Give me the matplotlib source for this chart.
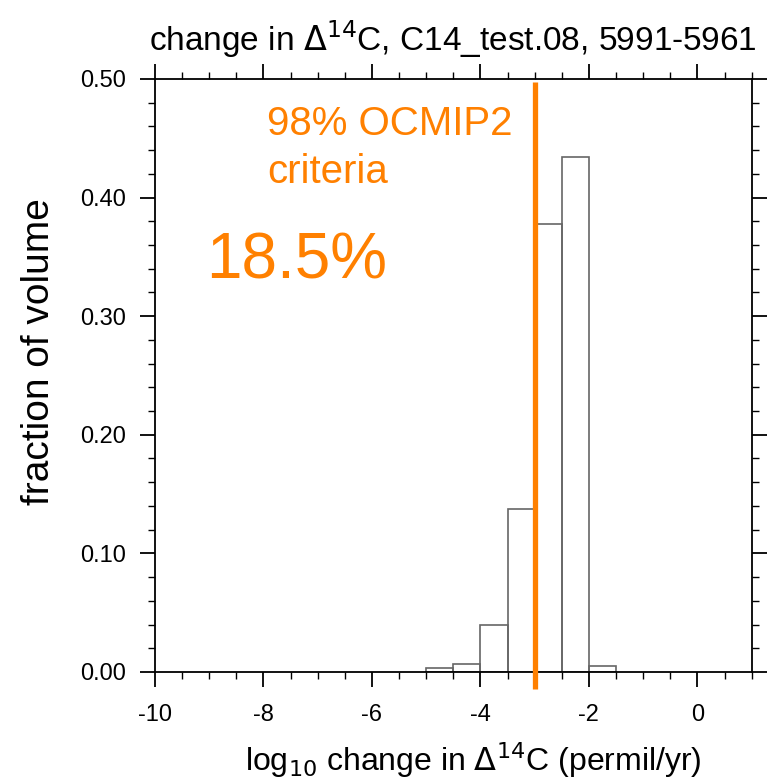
import numpy as np
import matplotlib.pyplot as plt
from matplotlib.ticker import MultipleLocator

# histogram of log10 change in D14C, bin edges every 0.5
bin_left = [-5.0, -4.5, -4.0, -3.5, -3.0, -2.5, -2.0]
fraction = [0.003, 0.0065, 0.040, 0.137, 0.378, 0.434, 0.005]
bin_width = 0.5
criterion = -3.0
percent_text = "18.5%"

orange = "#ff8000"
plt.rcParams["font.family"] = ["Liberation Sans", "DejaVu Sans"]
plt.rcParams["axes.unicode_minus"] = False

fig = plt.figure(figsize=(7.67, 7.82), dpi=100)
ax = fig.add_axes([0.202, 0.1407, 0.778, 0.7583])

ax.bar(bin_left, fraction, width=bin_width, align="edge",
       facecolor="none", edgecolor="#666666", linewidth=1.2, zorder=2)

# OCMIP2 criterion line (runs a bit past the bottom axis)
ax.plot([criterion, criterion], [-0.0143, 0.4975], color=orange,
        linewidth=3.8, clip_on=False, zorder=3, solid_capstyle="butt")
ax.text(-7.93, 0.453, "98% OCMIP2", color=orange, fontsize=29,
        ha="left", va="baseline")
ax.text(-7.93, 0.412, "criteria", color=orange, fontsize=29,
        ha="left", va="baseline")
ax.text(-9.05, 0.332, percent_text, color=orange, fontsize=46,
        ha="left", va="baseline")

ax.set_xlim(-10, 1)
ax.set_ylim(0, 0.5)
ax.xaxis.set_major_locator(MultipleLocator(2))
ax.xaxis.set_minor_locator(MultipleLocator(0.5))
ax.yaxis.set_major_locator(MultipleLocator(0.1))
ax.yaxis.set_minor_locator(MultipleLocator(0.02))
ax.yaxis.set_major_formatter(lambda v, p: f"{v:.2f}")
ax.tick_params(which="both", direction="out", top=True, right=True,
               labelsize=17, width=1.3, pad=10)
ax.tick_params(axis="x", which="major", pad=12)
ax.tick_params(which="major", length=11)
ax.tick_params(which="minor", length=5, width=1)
for s in ax.spines.values():
    s.set_linewidth(1.3)

ax.set_xlabel(r"log$_{10}$ change in $\Delta^{14}$C (permil/yr)", fontsize=23)
ax.set_ylabel("fraction of volume", fontsize=28)
ax.xaxis.set_label_coords(0.534, -0.115)
ax.yaxis.set_label_coords(-0.164, 0.54)
ax.set_title(r"change in $\Delta^{14}$C, C14_test.08, 5991-5961", fontsize=24,
             pad=20)

fig.savefig("out.png", dpi=100)
